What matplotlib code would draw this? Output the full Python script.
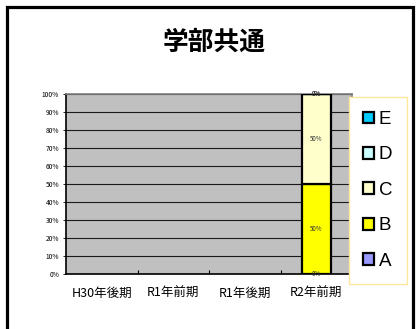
import matplotlib
matplotlib.use('Agg')
import matplotlib.pyplot as plt
from matplotlib.patches import Patch, Rectangle
import numpy as np

plt.rcParams['font.family'] = ['Noto Sans CJK JP', 'DejaVu Sans']

CATEGORIES = ['H30年後期', 'R1年前期', 'R1年後期', 'R2年前期']
SERIES = ['A', 'B', 'C', 'D', 'E']
COLORS = ['#9999FF', '#FFFF00', '#FFFFCC', '#CCFFFF', '#00CCFF']
A = [np.nan, np.nan, np.nan, 0]
B = [np.nan, np.nan, np.nan, 50]
C = [np.nan, np.nan, np.nan, 50]
D = [np.nan, np.nan, np.nan, 0]
E = [np.nan, np.nan, np.nan, 0]
VALUES = [A, B, C, D, E]
Y_TICKS = list(range(0, 101, 10))

W, H = 416, 329
fig = plt.figure(figsize=(W / 100, H / 100), dpi=100)
fig.patch.set_facecolor('white')

# outer frame
fig.add_artist(Rectangle((7.5 / W, -0.1), 405.5 / W, 1.1 - 6.5 / H,
                         transform=fig.transFigure, fill=False,
                         edgecolor='black', linewidth=2.3))

fig.text(214 / W, 1 - 42 / H, '学部共通', ha='center', va='center',
         fontsize=18.5, fontweight='bold')

ax = fig.add_axes([66 / W, 1 - 274 / H, 286 / W, 180 / H])
ax.set_facecolor('#C0C0C0')
ax.set_axisbelow(True)
ax.yaxis.grid(True, color='#1a1a1a', linewidth=0.8)

x = np.arange(len(CATEGORIES))
bottom = np.zeros(len(CATEGORIES))
for name, vals, col in zip(SERIES, VALUES, COLORS):
    v = np.array(vals, dtype=float)
    bars = ax.bar(x, v, 0.4, bottom=bottom, color=col, edgecolor='black',
                  linewidth=1.6, label=name, zorder=3)
    labels = ['' if np.isnan(a) else f'{a:.0f}%' for a in vals]
    ax.bar_label(bars, labels=labels, label_type='center', fontsize=4.5,
                 color='#333333', zorder=4)
    bottom += np.nan_to_num(v)

ax.set_xlim(-0.5, len(CATEGORIES) - 0.5)
ax.set_ylim(0, 100)
ax.set_yticks(Y_TICKS)
ax.set_yticklabels([f'{t}%' for t in Y_TICKS], fontsize=4.8)
ax.set_xticks(x)
ax.set_xticklabels(CATEGORIES, fontsize=9)
ax.set_xticks(np.arange(0.5, len(CATEGORIES) - 0.5, 1), minor=True)
ax.tick_params(axis='x', which='major', length=0, pad=9)
ax.tick_params(axis='x', which='minor', length=3, direction='in', width=0.8)
ax.tick_params(axis='y', length=2, width=0.6, pad=3)
for s in ['left', 'bottom']:
    ax.spines[s].set_color('black')
    ax.spines[s].set_linewidth(1.2)
for s in ['top', 'right']:
    ax.spines[s].set_color('#808080')
    ax.spines[s].set_linewidth(1.2)

handles = [Patch(facecolor=c, edgecolor='black', linewidth=1.6, label=n)
           for n, c in zip(SERIES, COLORS)][::-1]
leg = fig.legend(handles=handles, loc='upper left',
                 bbox_to_anchor=(349 / W, 1 - 97 / H),
                 prop={'family': 'Liberation Sans', 'size': 13.5},
                 handlelength=0.6, handleheight=0.6, handletextpad=0.25,
                 labelspacing=0.98, borderpad=0.75, borderaxespad=0,
                 fancybox=False, framealpha=1)
leg.get_frame().set_edgecolor('#FFE699')
leg.get_frame().set_linewidth(1.0)

fig.savefig('out.png', dpi=100)
